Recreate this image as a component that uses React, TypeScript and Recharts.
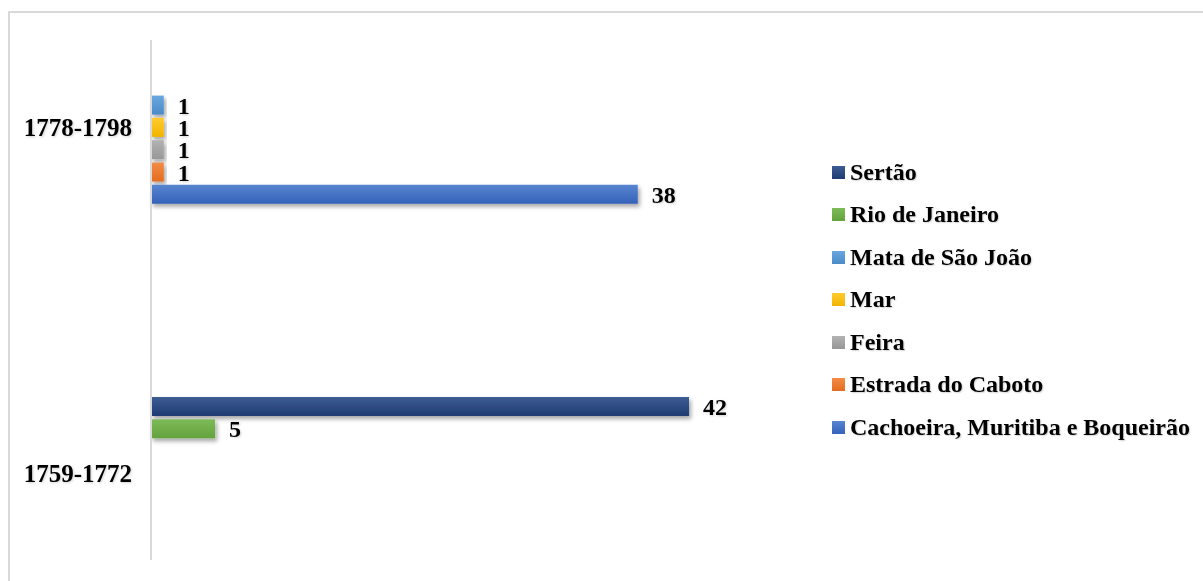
import React from 'react';
import { BarChart, Bar, XAxis, YAxis, LabelList, Legend } from 'recharts';

const periods = ['1778-1798', '1759-1772'];
const sertao = [null, 42];
const rioDeJaneiro = [null, 5];
const mataSaoJoao = [1, null];
const mar = [1, null];
const feira = [1, null];
const estradaCaboto = [1, null];
const cachoeira = [38, null];

const seriesNames = [
  'Sertão',
  'Rio de Janeiro',
  'Mata de São João',
  'Mar',
  'Feira',
  'Estrada do Caboto',
  'Cachoeira, Muritiba e Boqueirão',
];
const seriesValues = [sertao, rioDeJaneiro, mataSaoJoao, mar, feira, estradaCaboto, cachoeira];
const seriesColors: [string, string][] = [
  ['#3d5c94', '#1f3b72'],
  ['#7dbb58', '#64a23d'],
  ['#6aa7df', '#4a8bc8'],
  ['#ffcb2e', '#f2b400'],
  ['#b2b2b2', '#979797'],
  ['#f28c47', '#e46c1e'],
  ['#5885d0', '#3462b9'],
];

const keys = seriesNames.map((_, i) => `s${i}`);
const data = periods.map((p, ci) => {
  const row: Record<string, any> = { period: p };
  seriesValues.forEach((vals, si) => {
    if (vals[ci] !== null) row[keys[si]] = vals[ci];
  });
  return row;
});

const FONT = '"Liberation Serif", "Times New Roman", serif';

const LegendContent = (props: any) => {
  const payload = [...(props.payload || [])].sort(
    (a: any, b: any) => keys.indexOf(a.dataKey) - keys.indexOf(b.dataKey)
  );
  return (
    <div style={{ fontFamily: FONT, fontWeight: 700, fontSize: 24, color: '#000' }}>
      {payload.map((p: any) => {
        const idx = keys.indexOf(p.dataKey);
        const [c1, c2] = seriesColors[idx];
        return (
          <div key={p.dataKey} style={{ height: 42.5, display: 'flex', alignItems: 'center', whiteSpace: 'nowrap' }}>
            <svg width={13} height={13} style={{ marginRight: 5, flex: 'none' }}>
              <defs>
                <linearGradient id={`lg${idx}`} x1="0" y1="0" x2="0" y2="1">
                  <stop offset="0%" stopColor={c1} />
                  <stop offset="100%" stopColor={c2} />
                </linearGradient>
              </defs>
              <rect x={0} y={0} width={13} height={13} fill={`url(#lg${idx})`} />
            </svg>
            <span style={{ textShadow: '1px 1px 1.5px rgba(0,0,0,0.18)' }}>{seriesNames[idx]}</span>
          </div>
        );
      })}
    </div>
  );
};

export default function App() {
  return (
    <div style={{ position: 'relative', width: 1195, height: 565 }}>
      <div
        style={{
          position: 'fixed',
          left: 8,
          top: 11,
          width: 1400,
          height: 800,
          border: '2px solid #d9d9d9',
          boxSizing: 'border-box',
          pointerEvents: 'none',
        }}
      />
      <BarChart
        width={1195}
        height={565}
        data={data}
        layout="vertical"
        margin={{ top: 32, right: 411.5, bottom: 13, left: 0 }}
        barSize={19}
        barGap={3.3}
      >
        <defs>
          {seriesColors.map(([c1, c2], i) => (
            <linearGradient key={i} id={`bg${i}`} x1="0" y1="0" x2="0" y2="1">
              <stop offset="0%" stopColor={c1} />
              <stop offset="100%" stopColor={c2} />
            </linearGradient>
          ))}
          <filter id="barShadow" x="-10%" y="-30%" width="130%" height="190%">
            <feDropShadow dx="2" dy="3" stdDeviation="2.2" floodColor="#000" floodOpacity="0.35" />
          </filter>
          <filter id="txtShadow" x="-20%" y="-20%" width="150%" height="150%">
            <feDropShadow dx="1" dy="1" stdDeviation="0.8" floodColor="#000" floodOpacity="0.18" />
          </filter>
        </defs>
        <XAxis type="number" domain={[0, 50]} hide />
        <YAxis
          type="category"
          dataKey="period"
          width={143}
          axisLine={{ stroke: '#d9d9d9', strokeWidth: 2 }}
          tickLine={false}
          tickMargin={13}
          padding={{ top: -86, bottom: -86 }}
          tick={{ fill: '#000', fontSize: 25, fontWeight: 700, fontFamily: FONT, filter: 'url(#txtShadow)' }}
        />
        <Legend
          layout="vertical"
          align="center"
          verticalAlign="middle"
          content={<LegendContent />}
          wrapperStyle={{ left: 824, top: 142.75, width: 380 }}
        />
        {keys.map((k, i) => (
          <Bar
            key={k}
            dataKey={k}
            name={seriesNames[i]}
            fill={`url(#bg${i})`}
            filter="url(#barShadow)"
            isAnimationActive={false}
          >
            <LabelList
              dataKey={k}
              position="right"
              offset={14}
              fill="#000"
              fontSize={24}
              fontWeight={700}
              fontFamily={FONT}
              filter="url(#txtShadow)"
            />
          </Bar>
        ))}
      </BarChart>
    </div>
  );
}
